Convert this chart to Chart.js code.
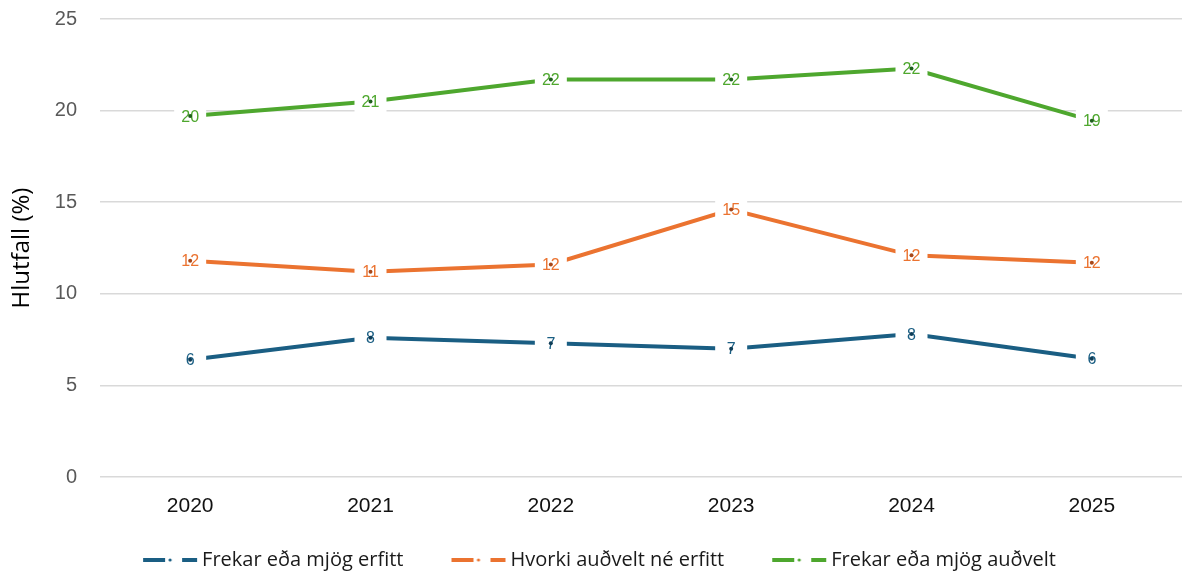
<!DOCTYPE html>
<html>
<head>
<meta charset="utf-8">
<script src="https://cdn.jsdelivr.net/npm/chart.js@4.4.0/dist/chart.umd.min.js"></script>
<style>
html,body{margin:0;padding:0;background:#fff;}
#wrap{width:1184px;height:574px;position:relative;}
</style>
</head>
<body>
<div id="wrap"><canvas id="c" width="1184" height="574"></canvas></div>
<script>
const categories = ["2020", "2021", "2022", "2023", "2024", "2025"];
const seriesNames = ["Frekar eða mjög erfitt", "Hvorki auðvelt né erfitt", "Frekar eða mjög auðvelt"];
const erfitt = [6.4, 7.6, 7.3, 7.0, 7.8, 6.45];
const hvorki = [11.8, 11.2, 11.6, 14.6, 12.1, 11.7];
const audvelt = [19.7, 20.5, 21.7, 21.7, 22.3, 19.45];
const yTicks = [0, 5, 10, 15, 20, 25];

const colors = ["#1a5e83", "#eb7330", "#4ea72e"];
const dotColors = ["#0f3d57", "#a8481a", "#1e5f1c"];

function legendIcon(color) {
  const c = document.createElement('canvas');
  c.width = 80; c.height = 10;
  const g = c.getContext('2d');
  g.fillStyle = color;
  g.fillRect(24, 3, 22, 4);
  g.fillRect(63, 3, 15, 4);
  g.beginPath(); g.arc(51, 5, 1.6, 0, Math.PI * 2); g.fill();
  return c;
}

const labelPlugin = {
  id: 'ptlabels',
  afterDatasetsDraw(chart) {
    const ctx = chart.ctx;
    chart.data.datasets.forEach((ds, i) => {
      const meta = chart.getDatasetMeta(i);
      ctx.save();
      ctx.font = '16px "Liberation Sans", Arial, sans-serif';
      ctx.textAlign = 'center';
      ctx.textBaseline = 'middle';
      meta.data.forEach((pt, j) => {
        const txt = String(Math.round(ds.data[j]));
        const w = Math.max(ctx.measureText(txt).width + 14, 32);
        ctx.fillStyle = '#ffffff';
        ctx.fillRect(pt.x - w / 2, pt.y - 11, w, 22);
        ctx.fillStyle = colors[i];
        ctx.fillText(txt, pt.x, pt.y + 1);
        ctx.fillStyle = dotColors[i];
        ctx.beginPath(); ctx.arc(pt.x, pt.y, 2, 0, Math.PI * 2); ctx.fill();
      });
      ctx.restore();
    });
  }
};

const seriesData = [erfitt, hvorki, audvelt];
new Chart(document.getElementById('c'), {
  type: 'line',
  data: {
    labels: categories,
    datasets: seriesData.map((d, i) => ({
      label: seriesNames[i],
      data: d,
      borderColor: colors[i],
      backgroundColor: colors[i],
      borderWidth: 4,
      pointRadius: 0,
      pointHoverRadius: 0,
      tension: 0,
      fill: false,
      pointStyle: legendIcon(colors[i])
    }))
  },
  options: {
    responsive: false,
    animation: false,
    layout: { padding: { top: 0, right: 2, left: 0, bottom: -6 } },
    plugins: {
      tooltip: { enabled: false },
      legend: {
        position: 'bottom',
        labels: {
          usePointStyle: true,
          pointStyleWidth: 66,
          color: '#1a1a1a',
          font: { family: '"Open Sans", "Noto Sans", sans-serif', size: 20 },
          padding: 31,
          boxHeight: 10
        }
      }
    },
    scales: {
      x: {
        offset: true,
        grid: { display: false, drawTicks: false },
        border: { display: false },
        ticks: { color: '#111111', font: { family: '"Liberation Sans", Arial, sans-serif', size: 21 }, padding: 17 },
        afterFit(axis) { axis.height = 42; }
      },
      y: {
        min: 0, max: 25,
        afterBuildTicks(axis) { axis.ticks = yTicks.map(v => ({ value: v })); },
        grid: { color: '#d9d9d9', lineWidth: 1.5, drawTicks: true, tickLength: 16, tickColor: 'rgba(0,0,0,0)' },
        border: { display: false },
        ticks: { color: '#595959', font: { family: '"Liberation Sans", Arial, sans-serif', size: 20 }, padding: 7 },
        title: { display: true, text: 'Hlutfall (%)', color: '#000', font: { family: '"Open Sans", "Noto Sans", sans-serif', size: 24 }, padding: { top: 8, bottom: 20 } },
        afterFit(axis) { axis.width = 100; }
      }
    }
  },
  plugins: [labelPlugin]
});
</script>
</body>
</html>
